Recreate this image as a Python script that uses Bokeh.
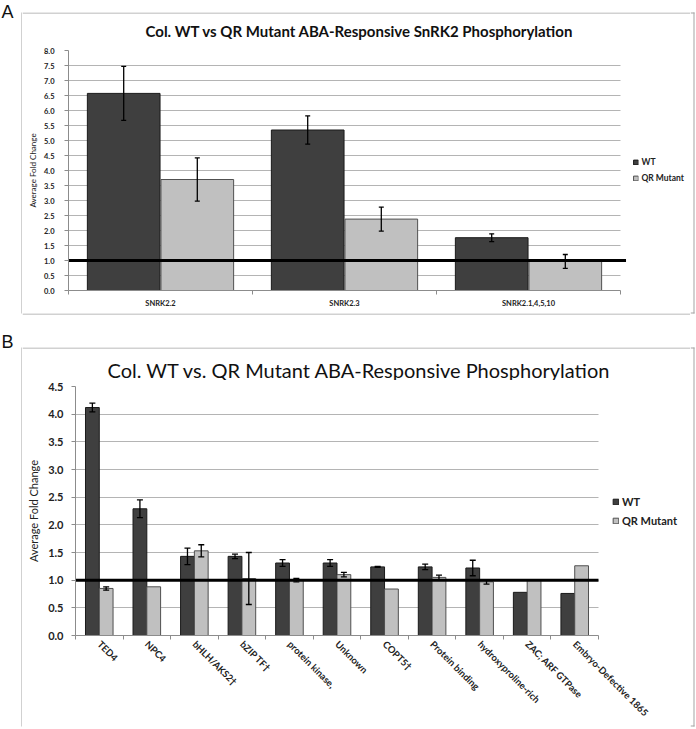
import math
from bokeh.plotting import figure
from bokeh.models import (Range1d, FixedTicker, ColumnDataSource, Whisker, TeeHead,
                          Label, Legend, LegendItem, PrintfTickFormatter, Spacer, BoxAnnotation,
                          Grid)
from bokeh.layouts import column, row
from bokeh.embed import file_html
from bokeh.resources import INLINE

# ---------------- data ----------------
series_names = ["WT", "QR Mutant"]

a_title = "Col. WT vs QR Mutant ABA-Responsive SnRK2 Phosphorylation"
a_categories = ["SNRK2.2", "SNRK2.3", "SNRK2.1,4,5,10"]
a_wt = [6.57, 5.35, 1.76]
a_wt_err = [0.90, 0.47, 0.13]
a_qr = [3.70, 2.38, 0.97]
a_qr_err = [0.72, 0.40, 0.23]
a_yticks = [0.0, 0.5, 1.0, 1.5, 2.0, 2.5, 3.0, 3.5, 4.0, 4.5, 5.0, 5.5, 6.0, 6.5, 7.0, 7.5, 8.0]

b_title = "Col. WT vs. QR Mutant ABA-Responsive Phosphorylation"
b_categories = ["TED4", "NPC4", "bHLH/AKS2\u2020", "bZIP TF\u2020", "protein kinase,", "Unknown",
                "COPT5\u2020", "Protein binding", "hydroxyproline-rich", "ZAC; ARF GTPase",
                "Embryo-Defective 1865"]
b_wt = [4.12, 2.29, 1.43, 1.43, 1.31, 1.31, 1.24, 1.24, 1.22, 0.78, 0.76]
b_wt_err = [0.08, 0.16, 0.15, 0.04, 0.06, 0.06, 0.01, 0.05, 0.14, 0.0, 0.0]
b_qr = [0.85, 0.88, 1.53, 1.03, 1.00, 1.10, 0.84, 1.05, 0.97, 1.00, 1.26]
b_qr_err = [0.03, 0.0, 0.11, 0.47, 0.03, 0.04, 0.0, 0.04, 0.04, 0.0, 0.0]
b_yticks = [0.0, 0.5, 1.0, 1.5, 2.0, 2.5, 3.0, 3.5, 4.0, 4.5]

reference_level = 1.0

WT_FILL, WT_LINE = "#3f3f3f", "#1a1a1a"
QR_FILL, QR_LINE = "#c0c0c0", "#505050"
GRID = "#b4b4b4"
AXIS = "#8c8c8c"
BOX = "#a3a3a3"
FONT = "Lato"
HAS_CROSS_BOUNDS = "cross_bounds" in Grid.properties()


def blank(width, height):
    f = figure(width=width, height=height, output_backend="svg", toolbar_location=None,
               title=None, x_axis_location=None, y_axis_location=None, min_border=0,
               x_range=Range1d(0, 1), y_range=Range1d(0, 1),
               background_fill_color="white", border_fill_color="white")
    f.outline_line_color = None
    f.grid.visible = False
    return f


def edge(f, left, right, bottom, top):
    f.add_layout(BoxAnnotation(left=left, right=right, bottom=bottom, top=top,
                               left_units="screen", right_units="screen",
                               bottom_units="screen", top_units="screen",
                               fill_color=BOX, fill_alpha=1, line_color=None, level="overlay"))


def text_label(f, x, y, text, size, style="normal", font=FONT):
    f.add_layout(Label(x=x, y=y, x_units="screen", y_units="screen", text=text,
                       text_align="left", text_baseline="middle", text_font=font,
                       text_font_style=style, text_font_size=size, text_color="#111111"))


def make_chart(cfg):
    cats = cfg["cats"]
    n = len(cats)
    # the frame also holds the legend column to the right of the plot area
    x_end = -0.5 + cfg["frame_px"] / cfg["cat_px"]
    p = figure(width=cfg["width"], height=cfg["height"], output_backend="svg",
               toolbar_location=None, title=None,
               x_range=Range1d(-0.5, x_end), y_range=Range1d(0, cfg["ymax"]),
               min_border_left=cfg["ml"], min_border_right=cfg["mr"],
               min_border_top=cfg["mt"], min_border_bottom=cfg["mb"])
    p.outline_line_color = None
    p.background_fill_color = "white"
    p.border_fill_color = "white"

    # horizontal grid, limited to the plot area
    p.xgrid.visible = False
    p.ygrid.grid_line_color = GRID
    p.ygrid.grid_line_width = 1
    p.ygrid.ticker = FixedTicker(ticks=cfg["yticks"])
    if HAS_CROSS_BOUNDS:
        p.ygrid[0].cross_bounds = (-0.5, n - 0.5)
    else:
        p.ygrid.visible = False
        p.segment(x0=[-0.5] * len(cfg["yticks"]), x1=[n - 0.5] * len(cfg["yticks"]),
                  y0=cfg["yticks"], y1=cfg["yticks"], line_color=GRID, line_width=1,
                  level="underlay")

    centers = list(range(n))
    off = cfg["off"]
    wt_src = ColumnDataSource(dict(x=[c - off for c in centers], top=cfg["wt"], cat=cats))
    qr_src = ColumnDataSource(dict(x=[c + off for c in centers], top=cfg["qr"], cat=cats))
    r_wt = p.vbar(x="x", top="top", bottom=0, width=cfg["bw"], source=wt_src,
                  fill_color=WT_FILL, line_color=WT_LINE, line_width=1)
    r_qr = p.vbar(x="x", top="top", bottom=0, width=cfg["bw"], source=qr_src,
                  fill_color=QR_FILL, line_color=QR_LINE, line_width=1)

    # reference line at fold change 1.0
    p.segment(x0=[-0.5], x1=[n - 0.5 + cfg["ref_over"]], y0=[reference_level],
              y1=[reference_level], line_color="black", line_width=3)

    for vals, errs, sign in ((cfg["wt"], cfg["wt_err"], -1), (cfg["qr"], cfg["qr_err"], 1)):
        xs, up, lo = [], [], []
        for c, v, e in zip(centers, vals, errs):
            if e > 0:
                xs.append(c + sign * off)
                up.append(v + e)
                lo.append(v - e)
        src = ColumnDataSource(dict(x=xs, upper=up, lower=lo))
        p.add_layout(Whisker(source=src, base="x", upper="upper", lower="lower",
                             dimension="height", line_color="black", line_width=1.3,
                             level="overlay",
                             upper_head=TeeHead(size=cfg["cap"], line_color="black", line_width=1.3),
                             lower_head=TeeHead(size=cfg["cap"], line_color="black", line_width=1.3)))

    p.yaxis.ticker = FixedTicker(ticks=cfg["yticks"])
    p.yaxis.formatter = PrintfTickFormatter(format="%.1f")
    p.yaxis.axis_line_color = AXIS
    p.yaxis.major_tick_line_color = AXIS
    p.yaxis.major_tick_out = 4
    p.yaxis.major_tick_in = 0
    p.yaxis.minor_tick_line_color = None
    p.yaxis.major_label_standoff = cfg["ystand"]
    p.yaxis.major_label_text_font = FONT
    p.yaxis.major_label_text_font_style = "bold"
    p.yaxis.major_label_text_font_size = cfg["yfs"]
    p.yaxis.major_label_text_color = "#222222"
    p.yaxis.axis_label = "Average Fold Change"
    p.yaxis.axis_label_text_font = FONT
    p.yaxis.axis_label_text_font_style = "normal"
    p.yaxis.axis_label_text_font_size = cfg["yafs"]
    p.yaxis.axis_label_standoff = cfg["yastand"]
    p.yaxis.axis_label_text_color = "#222222"

    p.xaxis.bounds = (-0.5, n - 0.5)
    p.xaxis.ticker = FixedTicker(ticks=centers, minor_ticks=[c - 0.5 for c in centers] + [n - 0.5])
    p.xaxis.major_label_overrides = {c: name for c, name in zip(centers, cats)}
    p.xaxis.axis_line_color = AXIS
    p.xaxis.major_tick_line_color = None
    p.xaxis.major_tick_out = 0
    p.xaxis.major_tick_in = 0
    p.xaxis.minor_tick_line_color = AXIS
    p.xaxis.minor_tick_out = 4
    p.xaxis.minor_tick_in = 0
    p.xaxis.major_label_standoff = cfg["xstand"]
    p.xaxis.major_label_text_font = FONT
    p.xaxis.major_label_text_font_style = "bold"
    p.xaxis.major_label_text_font_size = cfg["xfs"]
    p.xaxis.major_label_text_color = "#222222"
    if cfg["rot"]:
        p.xaxis.major_label_orientation = -math.pi / 4

    p.add_layout(Legend(items=[LegendItem(label=series_names[0], renderers=[r_wt]),
                               LegendItem(label=series_names[1], renderers=[r_qr])],
                        location="right", padding=0, margin=cfg["leg_margin"],
                        spacing=cfg["leg_sp"], glyph_width=cfg["leg_g"],
                        glyph_height=cfg["leg_g"], label_height=cfg["leg_lh"],
                        label_standoff=3, border_line_color=None, background_fill_alpha=0,
                        label_text_font=FONT, label_text_font_style="bold",
                        label_text_font_size=cfg["leg_fs"], label_text_color="#222222"))
    # wrap in a row so that its frame is not aligned with the header/footer strips
    return row(p, Spacer(width=2, height=cfg["height"]), spacing=0)


MID_W = 668
CHART_W = MID_W - 2

# ---------------- panel A (page rows 0..330) ----------------
letterA = blank(22, 330)
text_label(letterA, 1, 319, "A", "18px", font="Liberation Sans")
edge(letterA, 21, 22, 17, 318)
rightA = blank(6, 330)
edge(rightA, 3, 4, 17, 318)
edge(rightA, 0, 4, 317, 318)
edge(rightA, 0, 4, 17, 18)

headA = blank(MID_W, 30)
edge(headA, 0, MID_W, 29, 30)
text_label(headA, 123, 12, a_title, "15px", style="bold")

chartA = make_chart(dict(
    cats=a_categories, wt=a_wt, wt_err=a_wt_err, qr=a_qr, qr_err=a_qr_err,
    yticks=a_yticks, ymax=8.0, width=CHART_W, height=271, ml=46, mr=0, mt=8, mb=23,
    cat_px=184.0, frame_px=620,
    off=0.2, bw=0.395, cap=5, ref_over=0.03,
    ystand=10, yfs="7.5px", yafs="8px", yastand=3, xstand=4, xfs="7.5px", rot=False,
    leg_margin=4, leg_sp=6, leg_g=6, leg_lh=10, leg_fs="8.5px"))
footA = blank(MID_W, 17)
edge(footA, 0, MID_W, 16, 17)

panelA = row(letterA,
             column(Spacer(width=MID_W, height=12), headA, chartA, footA, spacing=0),
             rightA, spacing=0)

# ---------------- panel B (page rows 330..729) ----------------
letterB = blank(22, 399)
text_label(letterB, 1, 388, "B", "18px", font="Liberation Sans")
edge(letterB, 21, 22, 3, 382)
rightB = blank(6, 399)
edge(rightB, 3, 4, 3, 382)
edge(rightB, 0, 4, 381, 382)
edge(rightB, 0, 4, 3, 4)

headB = blank(MID_W, 33)
edge(headB, 0, MID_W, 32, 33)
text_label(headB, 85, 11, b_title, "20px")

chartB = make_chart(dict(
    cats=b_categories, wt=b_wt, wt_err=b_wt_err, qr=b_qr, qr_err=b_qr_err,
    yticks=b_yticks, ymax=4.5, width=CHART_W, height=345, ml=53, mr=0, mt=6, mb=88,
    cat_px=47.545, frame_px=613,
    off=0.145, bw=0.29, cap=6, ref_over=0.0,
    ystand=8, yfs="11px", yafs="11px", yastand=5, xstand=3, xfs="9.5px", rot=True,
    leg_margin=11, leg_sp=6, leg_g=7, leg_lh=13, leg_fs="11px"))
footB = blank(MID_W, 4)
edge(footB, 0, MID_W, 3, 4)

panelB = row(letterB,
             column(Spacer(width=MID_W, height=17), headB, chartB, footB, spacing=0),
             rightB, spacing=0)

layout = column(panelA, panelB, spacing=0)
open("out.html", "w").write(file_html(layout, INLINE))
